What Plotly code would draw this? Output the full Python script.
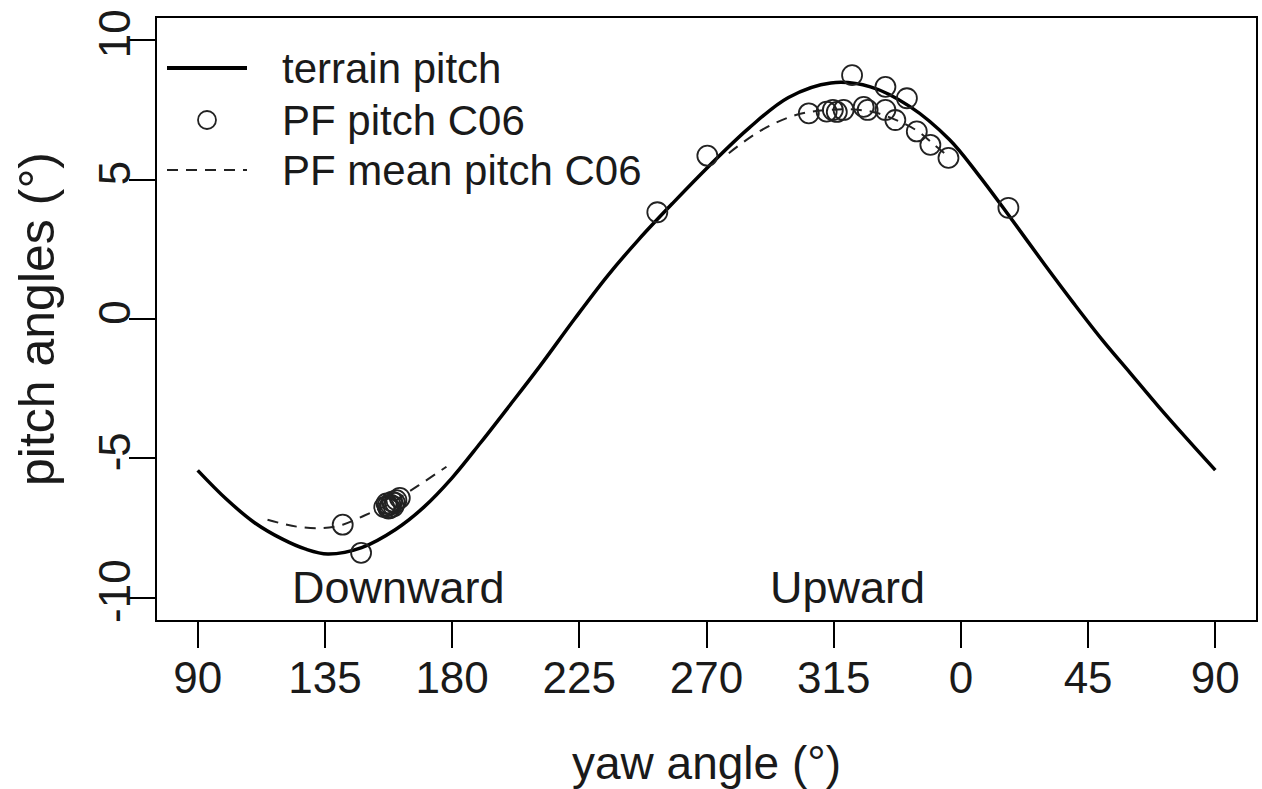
import plotly.graph_objects as go

# ---- data (yaw unwrapped: 90..450, labels wrap at 360) ----
terrain_yaw = [90, 100, 110, 120, 128, 136, 148, 160, 170, 180, 190, 200, 211, 223.3, 235, 246, 258,
               271, 285, 299, 314, 328, 342, 356, 366, 376, 390, 400, 410, 420, 430, 440, 450]
terrain_pitch = [-5.43, -6.45, -7.3, -7.9, -8.25, -8.43, -8.2, -7.55, -6.75, -5.7, -4.45, -3.15, -1.7, 0.0,
                 1.55, 2.85, 4.15, 5.5, 6.85, 7.95, 8.47, 8.33, 7.62, 6.43, 5.2, 3.85, 1.9, 0.55, -0.75,
                 -1.95, -3.15, -4.3, -5.42]

pf_yaw = [141.3, 147.8,
          156.0, 156.8, 157.5, 158.2, 158.8, 159.3, 157.2, 159.8, 158.0, 160.3, 161.5,
          252.6, 270.3,
          306.2, 312.5, 314.7, 316.1, 318.5, 325.6, 327.0, 321.5, 333.3, 340.9, 333.3, 336.8,
          344.4, 349.2, 355.6, 376.8]
pf_pitch = [-7.38, -8.39,
            -6.75, -6.62, -6.80, -6.66, -6.55, -6.72, -6.70, -6.60, -6.78, -6.50, -6.42,
            3.83, 5.86,
            7.38, 7.44, 7.5, 7.43, 7.5, 7.61, 7.5, 8.75, 8.33, 7.92, 7.5, 7.14,
            6.73, 6.25, 5.78, 3.99]

mean_yaw = [114.7, 125, 134.2, 141.3, 149, 158, 168, 178, None,
            277.9, 289, 301.6, 313, 322, 330, 338, 345, 350, 356]
mean_pitch = [-7.2, -7.45, -7.5, -7.38, -7.05, -6.62, -5.98, -5.3, None,
              5.95, 6.75, 7.32, 7.5, 7.52, 7.4, 7.1, 6.72, 6.3, 5.8]

tick_vals = [90, 135, 180, 225, 270, 315, 360, 405, 450]
tick_text = ["90", "135", "180", "225", "270", "315", "0", "45", "90"]
y_ticks = [-10, -5, 0, 5, 10]

legend_labels = ["terrain pitch", "PF pitch C06", "PF mean pitch C06"]
region_labels = ["Downward", "Upward"]
region_x = [161, 320]
region_y = [-9.65, -9.65]

FONT = "Liberation Sans, Arial, Helvetica, sans-serif"
INK = "#1a1a1a"

W, H = 1262, 789
ML, MR, MT, MB = 157, 6, 18, 169
PW, PH = W - ML - MR, H - MT - MB


def px(xp):
    return (xp - ML) / PW


def py(yp):
    return 1 - (yp - MT) / PH


fig = go.Figure()
fig.add_trace(go.Scatter(x=terrain_yaw, y=terrain_pitch, mode="lines",
                         line=dict(color="black", width=3.5, shape="spline", smoothing=1.0),
                         name=legend_labels[0], showlegend=False))
fig.add_trace(go.Scatter(x=mean_yaw, y=mean_pitch, mode="lines", connectgaps=False,
                         line=dict(color="#222", width=2, dash="11px,8px", shape="spline", smoothing=1.0),
                         name=legend_labels[2], showlegend=False))
fig.add_trace(go.Scatter(x=pf_yaw, y=pf_pitch, mode="markers",
                         marker=dict(symbol="circle-open", size=20, color="#222", line=dict(width=1.8)),
                         name=legend_labels[1], showlegend=False))

# region labels
for t, xx, yy in zip(region_labels, region_x, region_y):
    fig.add_annotation(x=xx, y=yy, text=t, showarrow=False, xanchor="center", yanchor="middle",
                       font=dict(size=45, color=INK, family=FONT))

# manual legend (R style, no box)
rows = [68, 120, 170]
fig.add_shape(type="line", xref="paper", yref="paper", x0=px(167), x1=px(247), y0=py(rows[0]), y1=py(rows[0]),
              line=dict(color="black", width=4))
fig.add_shape(type="circle", xref="paper", yref="paper", x0=px(198), x1=px(216), y0=py(111), y1=py(129),
              line=dict(color="#222", width=1.8))
fig.add_shape(type="line", xref="paper", yref="paper", x0=px(167), x1=px(247), y0=py(rows[2]), y1=py(rows[2]),
              line=dict(color="#222", width=2, dash="11px,8px"))
for t, r in zip(legend_labels, rows):
    fig.add_annotation(xref="paper", yref="paper", x=px(280), y=py(r), text=t, showarrow=False,
                       xanchor="left", yanchor="middle", font=dict(size=42, color=INK, family=FONT))

axis_common = dict(showline=True, linecolor="black", linewidth=2, mirror=True, showgrid=False, zeroline=False,
                   ticks="outside", tickcolor="black", tickwidth=2, ticklen=26,
                   tickfont=dict(size=44, color=INK, family=FONT))
fig.update_xaxes(range=[75.6, 464.4], tickmode="array", tickvals=tick_vals, ticktext=tick_text,
                 ticklabelstandoff=-8,
                 title=dict(text="yaw angle (°)", font=dict(size=46, color=INK, family=FONT), standoff=46),
                 **axis_common)
fig.update_yaxes(range=[-10.8, 10.8], tickmode="array", tickvals=y_ticks, ticktext=[str(v) for v in y_ticks],
                 tickangle=-90, ticklabelstandoff=-19,
                 title=dict(text="pitch angles (°)", font=dict(size=50, color=INK, family=FONT), standoff=20),
                 **axis_common)
fig.update_layout(width=W, height=H, margin=dict(l=ML, r=MR, t=MT, b=MB, autoexpand=False),
                  paper_bgcolor="white", plot_bgcolor="white", showlegend=False,
                  font=dict(family=FONT, color=INK))
fig.write_html("out.html")
